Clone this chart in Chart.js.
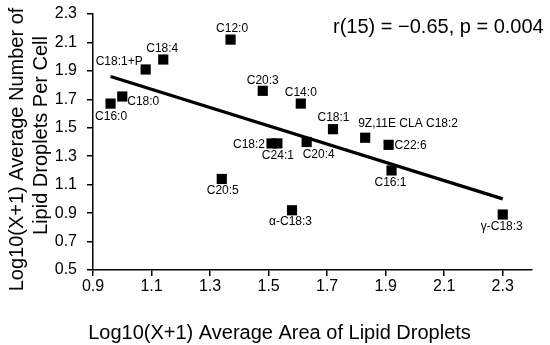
<!DOCTYPE html>
<html>
<head>
<meta charset="utf-8">
<script src="https://cdn.jsdelivr.net/npm/chart.js@4/dist/chart.umd.min.js"></script>
<style>
  html, body { margin: 0; padding: 0; background: #fff; }
  #wrap { width: 550px; height: 345px; }
</style>
</head>
<body>
<div id="wrap"><canvas id="c" width="550" height="345"></canvas></div>
<script>
// ---- data ----
const names  = ['C16:0','C18:0','C18:1+P','C18:4','C12:0','C20:3','C14:0','C18:2','C24:1','C20:4','C18:1','9Z,11E CLA C18:2','C22:6','C16:1','γ-C18:3','C20:5','α-C18:3'];
const areaX  = [0.96, 1.00, 1.08, 1.14, 1.37, 1.48, 1.61, 1.51, 1.53, 1.63, 1.72, 1.83, 1.91, 1.92, 2.30, 1.34, 1.58];
const countY = [1.67, 1.72, 1.91, 1.98, 2.12, 1.76, 1.67, 1.39, 1.39, 1.40, 1.49, 1.43, 1.38, 1.20, 0.89, 1.14, 0.92];
const trendX = [0.96, 2.30];
const trendY = [1.86, 1.00];
const xTicks = [0.9, 1.1, 1.3, 1.5, 1.7, 1.9, 2.1, 2.3];
const yTicks = [0.5, 0.7, 0.9, 1.1, 1.3, 1.5, 1.7, 1.9, 2.1, 2.3];
const xTitle = 'Log10(X+1) Average Area of Lipid Droplets';
const yTitle = ['Log10(X+1) Average Number of', 'Lipid Droplets Per Cell'];
const statText = 'r(15) = \u22120.65, p = 0.004';

// ---- label placement (style, not data) ----
const labelPlace = {
  'C16:0':   {a:'center', dx:0.5, dy:12},
  'C18:0':   {a:'left',   dx:5,   dy:4.5},
  'C18:1+P': {a:'right',  dx:-3,  dy:-8.5},
  'C18:4':   {a:'center', dx:-1,  dy:-12},
  'C12:0':   {a:'center', dx:1.5, dy:-12},
  'C20:3':   {a:'center', dx:0,   dy:-11},
  'C14:0':   {a:'center', dx:0,   dy:-11.5},
  'C18:2':   {a:'right',  dx:-6.5,dy:0},
  'C24:1':   {a:'center', dx:0.5, dy:11},
  'C20:4':   {a:'left',   dx:-4,  dy:11.5},
  'C18:1':   {a:'center', dx:0.5, dy:-12.5},
  '9Z,11E CLA C18:2': {a:'left', dx:-7, dy:-15.5},
  'C22:6':   {a:'left',   dx:6,   dy:0},
  'C16:1':   {a:'center', dx:-1,  dy:11},
  'γ-C18:3': {a:'center', dx:-1,  dy:11},
  'C20:5':   {a:'center', dx:1,   dy:10.5},
  'α-C18:3': {a:'center', dx:-1.5,dy:10.5}
};

const FONT = '"Liberation Sans", Arial, Helvetica, sans-serif';
Chart.defaults.font.family = FONT;
Chart.defaults.color = '#000';

const pts = names.map((n, i) => ({x: areaX[i], y: countY[i]}));
const trend = trendX.map((x, i) => ({x: x, y: trendY[i]}));

const textPlugin = {
  id: 'texts',
  afterDatasetsDraw(chart) {
    const ctx = chart.ctx;
    const xs = chart.scales.x, ys = chart.scales.y;
    ctx.save();
    ctx.fillStyle = '#000';
    // point labels
    ctx.font = '12px ' + FONT;
    ctx.textBaseline = 'alphabetic';
    names.forEach((n, i) => {
      const p = labelPlace[n] || {a:'center', dx:0, dy:11};
      const px = xs.getPixelForValue(areaX[i]);
      const py = ys.getPixelForValue(countY[i]);
      ctx.textAlign = p.a;
      ctx.fillText(n, px + p.dx, py + p.dy + 4.3);
    });
    // stat annotation
    ctx.font = '20px ' + FONT;
    ctx.textAlign = 'left';
    ctx.fillText(statText, 333, 32.5);
    // x title
    ctx.textAlign = 'center';
    ctx.fillText(xTitle, 279.5, 339);
    // y title (rotated)
    ctx.save();
    ctx.translate(23, 149.5);
    ctx.rotate(-Math.PI / 2);
    ctx.fillText(yTitle[0], 0, 0);
    ctx.restore();
    ctx.save();
    ctx.translate(46.5, 135.5);
    ctx.rotate(-Math.PI / 2);
    ctx.fillText(yTitle[1], 0, 0);
    ctx.restore();
    ctx.restore();
  }
};

new Chart(document.getElementById('c'), {
  type: 'scatter',
  data: {
    datasets: [
      {
        type: 'scatter',
        data: pts,
        pointStyle: 'rect',
        pointRadius: 7.2,
        pointHoverRadius: 7.2,
        backgroundColor: '#000',
        borderColor: '#000',
        borderWidth: 0
      },
      {
        type: 'line',
        data: trend,
        borderColor: '#000',
        borderWidth: 3.2,
        pointRadius: 0,
        fill: false,
        tension: 0
      }
    ]
  },
  options: {
    responsive: false,
    animation: false,
    events: [],
    layout: { padding: { left: 55, right: 18, top: 14, bottom: 45 } },
    plugins: { legend: { display: false }, tooltip: { enabled: false } },
    scales: {
      x: {
        type: 'linear',
        min: 0.9, max: 2.4,
        afterBuildTicks: s => { s.ticks = xTicks.map(v => ({value: v})); },
        afterFit: s => { s.height = 30; s.paddingLeft = 0; s.paddingRight = 0; },
        border: { color: '#000', width: 1.5 },
        grid: { drawOnChartArea: false, drawTicks: true, tickLength: 6, color: '#000', lineWidth: 1.5 },
        ticks: { font: { size: 16 }, color: '#000', padding: 1, maxRotation: 0, autoSkip: false,
                 callback: v => Number(v).toFixed(1) }
      },
      y: {
        type: 'linear',
        min: 0.5, max: 2.3,
        afterBuildTicks: s => { s.ticks = yTicks.map(v => ({value: v})); },
        afterFit: s => { s.width = 38; s.paddingTop = 0; s.paddingBottom = 0; },
        border: { color: '#000', width: 1.5 },
        grid: { drawOnChartArea: false, drawTicks: true, tickLength: 6, color: '#000', lineWidth: 1.5 },
        ticks: { font: { size: 16 }, color: '#000', padding: 10, autoSkip: false,
                 callback: v => Number(v).toFixed(1) }
      }
    }
  },
  plugins: [textPlugin]
});
</script>
</body>
</html>
